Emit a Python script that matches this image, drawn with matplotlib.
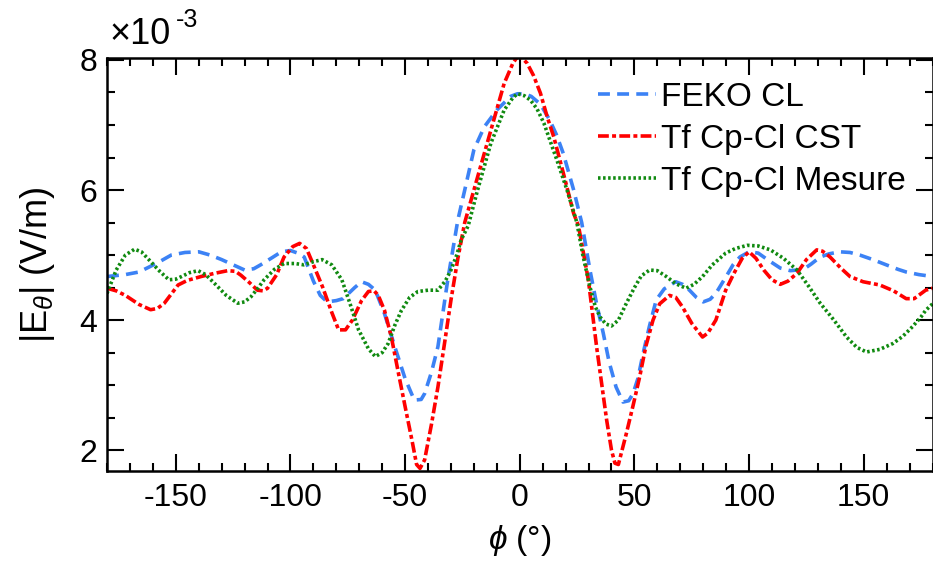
import numpy as np
import matplotlib
matplotlib.use("Agg")
import matplotlib.pyplot as plt
from matplotlib.ticker import MultipleLocator

plt.rcParams["font.family"] = ["Liberation Sans", "DejaVu Sans"]
plt.rcParams["mathtext.fontset"] = "custom"
plt.rcParams["mathtext.rm"] = "Liberation Sans"
plt.rcParams["mathtext.it"] = "Liberation Sans:italic"
plt.rcParams["axes.unicode_minus"] = False

# |E_theta| (x 1e-3 V/m)
phi_feko = [-180, -172, -166, -158, -152, -146, -140, -135, -130, -125, -120, -116, -113,
            -108, -104, -100, -96, -94, -90, -87, -84, -80, -77, -72, -69, -66, -63, -59,
            -54.5, -50, -46, -43, -41.5, -38.5, -35.7, -31.4, -27, -24, -20, -15.5, -10,
            -4, -1, 2, 5, 9, 13, 16, 19, 23.5, 27, 30.6, 33.5, 36.4, 39, 42, 45, 47.5,
            49.4, 51.5, 53.8, 56.5, 59.5, 63, 68, 71, 74, 77, 80, 83, 85.5, 90, 93, 96,
            100, 104, 108, 113.6, 118, 123.7, 127, 131, 135, 139.6, 144, 148.3, 154,
            159.8, 165, 168.5, 174, 180]
e_feko = [4.67, 4.70, 4.74, 4.88, 5.00, 5.04, 5.05, 5.00, 4.93, 4.85, 4.77, 4.79, 4.85,
          4.96, 5.05, 5.07, 5.02, 4.97, 4.60, 4.38, 4.28, 4.30, 4.33, 4.50, 4.59, 4.55,
          4.46, 4.10, 3.59, 3.10, 2.77, 2.78, 2.87, 3.20, 3.59, 4.62, 5.54, 6.00, 6.62,
          6.97, 7.23, 7.44, 7.48, 7.48, 7.44, 7.32, 7.08, 6.85, 6.56, 6.00, 5.50, 4.77,
          4.25, 3.80, 3.35, 2.97, 2.74, 2.76, 2.87, 3.10, 3.49, 3.90, 4.31, 4.48, 4.59,
          4.55, 4.46, 4.35, 4.28, 4.32, 4.41, 4.67, 4.85, 4.97, 5.05, 5.03, 4.93, 4.80,
          4.76, 4.78, 4.86, 4.97, 5.02, 5.05, 5.04, 5.00, 4.93, 4.85, 4.78, 4.74, 4.70,
          4.67]

phi_cst = [-180, -176, -172, -166, -161, -158, -155, -152, -149, -145, -139, -133, -127.4,
           -124, -121.6, -118, -114.4, -112, -110, -106, -102.8, -99, -96, -93, -90, -86,
           -82, -79, -76, -73, -69, -66, -63.5, -61.7, -59, -56, -53, -50, -47, -45,
           -43.5, -41.5, -38.5, -35.7, -33, -30, -27, -24, -18.4, -12.6, -6.8, -3, -1, 1,
           3.2, 6, 9, 12, 14.8, 19, 23.5, 25.6, 29.9, 33.5, 37.9, 40, 41.5, 43, 46.5,
           49.5, 52.3, 55, 58.1, 61, 65.3, 68, 71, 75, 79.7, 82, 85.5, 89.8, 93.4, 97,
           100, 103, 106.4, 110, 113.6, 117, 120.9, 125, 129.5, 132, 135.3, 140, 144,
           149.7, 157, 163, 168.5, 172, 177, 180]
e_cst = [4.49, 4.45, 4.38, 4.24, 4.16, 4.18, 4.26, 4.40, 4.54, 4.61, 4.67, 4.72, 4.76,
         4.75, 4.69, 4.58, 4.46, 4.45, 4.49, 4.70, 4.97, 5.13, 5.18, 5.10, 4.85, 4.51,
         4.12, 3.85, 3.85, 4.00, 4.30, 4.44, 4.45, 4.38, 4.15, 3.74, 3.20, 2.67, 2.15,
         1.78, 1.72, 1.85, 2.40, 2.97, 3.60, 4.31, 4.95, 5.50, 6.20, 6.92, 7.64, 7.95,
         8.05, 8.03, 7.95, 7.76, 7.49, 7.12, 6.82, 6.26, 5.64, 5.45, 4.62, 3.59, 2.46,
         2.00, 1.80, 1.78, 2.26, 2.70, 3.13, 3.60, 4.00, 4.25, 4.38, 4.35, 4.20, 3.95,
         3.74, 3.80, 4.00, 4.46, 4.72, 4.95, 5.05, 4.95, 4.77, 4.62, 4.55, 4.60, 4.72,
         4.93, 5.08, 5.06, 4.97, 4.80, 4.67, 4.59, 4.54, 4.45, 4.33, 4.33, 4.46, 4.49]

phi_mes = [-180, -176, -172, -168, -165, -161.5, -157, -153, -150, -147.5, -144, -140.3,
           -137, -133, -128, -123, -120, -117.2, -114, -111.5, -107, -102.8, -98, -94.2,
           -89.8, -86.2, -82, -77.6, -74, -70.3, -66, -63, -60, -57.4, -54.5, -51.6, -48,
           -44.4, -40, -35.7, -32.5, -30, -27.5, -25.6, -22.5, -18.4, -12.6, -6.8, -3,
           -1, 2, 4.7, 7.5, 10.5, 13, 16.2, 20.6, 24.9, 27.5, 30.6, 33, 35, 37.5, 40, 43,
           46.5, 50, 53, 56.6, 60, 63.9, 68, 72.5, 76, 79.7, 84, 89.8, 94, 99.2, 104,
           109.3, 115, 120.9, 126, 131, 137, 142.5, 147, 151.2, 157, 162.7, 167, 171.3,
           175, 177, 180]
e_mes = [4.41, 4.77, 5.00, 5.09, 5.05, 4.92, 4.75, 4.62, 4.63, 4.67, 4.73, 4.76, 4.70,
         4.56, 4.38, 4.26, 4.28, 4.36, 4.50, 4.62, 4.78, 4.87, 4.87, 4.85, 4.90, 4.93,
         4.85, 4.62, 4.25, 3.85, 3.56, 3.44, 3.50, 3.64, 3.92, 4.15, 4.35, 4.44, 4.46,
         4.46, 4.60, 4.77, 5.00, 5.23, 5.45, 6.00, 6.72, 7.23, 7.42, 7.48, 7.45, 7.38,
         7.25, 7.03, 6.78, 6.46, 6.00, 5.50, 5.00, 4.51, 4.20, 4.05, 3.94, 3.91, 4.00,
         4.26, 4.50, 4.68, 4.77, 4.76, 4.67, 4.56, 4.49, 4.55, 4.67, 4.85, 5.03, 5.10,
         5.15, 5.14, 5.08, 4.95, 4.77, 4.52, 4.26, 4.00, 3.74, 3.58, 3.51, 3.55, 3.64,
         3.75, 3.90, 4.05, 4.15, 4.25]

fig = plt.figure(figsize=(9.33, 5.76), dpi=100)
ax = fig.add_axes([0.1147, 0.1823, 0.8848, 0.717])

ax.plot(phi_feko, e_feko, color="#3c82f5", lw=2.6, linestyle=(0, (3.3, 2.0)),
        label="FEKO CL")
ax.plot(phi_cst, e_cst, color="#ff0000", lw=2.6, linestyle=(0, (3.0, 0.9, 1.1, 0.9)),
        label="Tf Cp-Cl CST")
ax.plot(phi_mes, e_mes, color="#108a10", lw=2.6, linestyle=(0, (0.7, 0.7)),
        label="Tf Cp-Cl Mesure")

ax.set_xlim(-180, 180)
ax.set_ylim(1.68, 8.03)
ax.xaxis.set_major_locator(MultipleLocator(50))
ax.xaxis.set_minor_locator(MultipleLocator(10))
ax.yaxis.set_major_locator(MultipleLocator(2))
ax.yaxis.set_minor_locator(MultipleLocator(0.5))
ax.tick_params(which="both", direction="in", top=True, right=True, width=1.5,
               labelsize=23, color="black")
ax.tick_params(which="major", length=12)
ax.tick_params(which="minor", length=6)
ax.tick_params(axis="x", pad=9)
ax.tick_params(axis="y", pad=7)
for s in ax.spines.values():
    s.set_linewidth(1.8)

ax.set_xlabel(r"$\phi$ (°)", fontsize=24, labelpad=7)
ax.set_ylabel(r"|E$_\theta$| (V/m)", fontsize=26, labelpad=16)

# facteur d'échelle en haut à gauche
ax.annotate("×10", xy=(0.003, 1.0), xycoords="axes fraction", xytext=(0, 4),
            textcoords="offset points", fontsize=26, ha="left", va="bottom")
ax.annotate("-3", xy=(0.003, 1.0), xycoords="axes fraction", xytext=(48, 19),
            textcoords="offset points", fontsize=18, ha="left", va="bottom")

ax.legend(loc="upper left", bbox_to_anchor=(598 / 933, 1 - 82 / 576),
          bbox_transform=fig.transFigure, frameon=False, fontsize=24,
          handlelength=1.75, handletextpad=0.15, labelspacing=0.33,
          borderpad=0, borderaxespad=0)

fig.savefig("out.png", dpi=100)
